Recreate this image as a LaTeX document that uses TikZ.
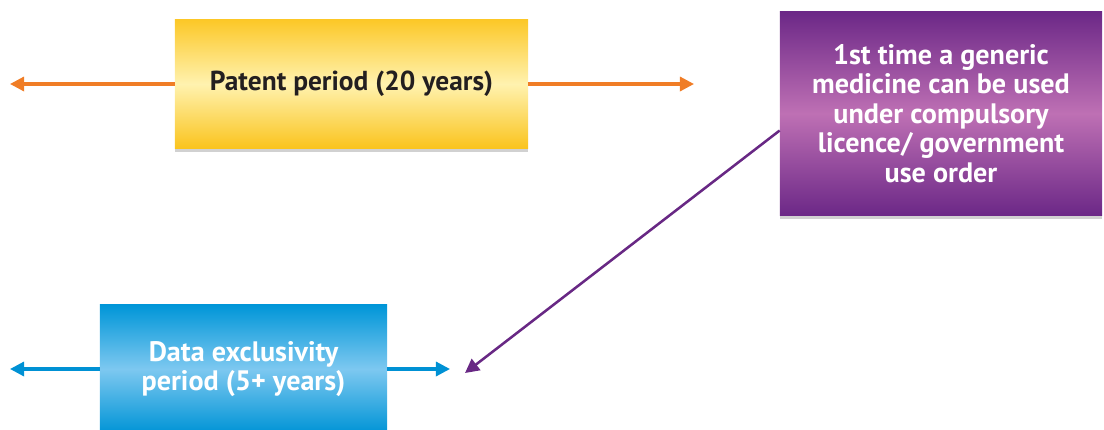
\documentclass[tikz,border=0pt]{standalone}
\usepackage{fontspec}
\setmainfont{PT Sans}
\usetikzlibrary{positioning,arrows.meta,shadows,calc}

\definecolor{patentorange}{RGB}{240,125,38}
\definecolor{datablue}{RGB}{0,145,212}
\definecolor{licpurple}{RGB}{104,40,132}

\begin{document}
\begin{tikzpicture}[x=0.025cm,y=-0.025cm,
    period/.style={inner sep=0pt, align=center, font=\bfseries\fontsize{20}{21}\selectfont,
      drop shadow={shadow xshift=0pt, shadow yshift=-3pt, opacity=0.18, fill=black}},
    arr/.style={line width=2.2pt, -{Triangle[length=10pt,width=10pt]}}]
    \useasboundingbox (0,0) rectangle (1104,429);
    \clip (0,0) rectangle (1104,429);

    % Boxes
    \node[period, minimum width=8.825cm, minimum height=3.2cm, font=\bfseries\fontsize{19.5}{21}\selectfont,
      top color={rgb,255:red,252;green,200;blue,40}, bottom color={rgb,255:red,250;green,196;blue,30},
      middle color={rgb,255:red,255;green,242;blue,175}, text={rgb,255:red,35;green,31;blue,32}]
      (patent) at (351.5,84) {Patent period (20 years)};
    \node[period, minimum width=7.175cm, minimum height=3.2cm,
      top color={rgb,255:red,0;green,150;blue,216}, bottom color={rgb,255:red,0;green,148;blue,214},
      middle color={rgb,255:red,125;green,200;blue,240}, text=white]
      (data) at (243.5,369) {Data exclusivity\\period (5+ years)};
    \node[period, minimum width=8.05cm, minimum height=5.075cm,
      top color={rgb,255:red,108;green,40;blue,135}, bottom color={rgb,255:red,108;green,40;blue,135},
      middle color={rgb,255:red,190;green,112;blue,180}, text=white]
      (generic) at (941,113.5) {1st time a generic\\medicine can be used\\under compulsory\\licence/ government\\use order};

    % Arrow ends
    \coordinate (pleft) at (10,84);
    \coordinate (pright) at (694,84);
    \coordinate (dleft) at (10,369);
    \coordinate (dright) at (450,369);
    \coordinate (gend) at (465,373);

    % Arrows
    \draw[arr, patentorange] (patent.west) -- (pleft);
    \draw[arr, patentorange] (patent.east) -- (pright);
    \draw[arr, datablue] (data.west) -- (dleft);
    \draw[arr, datablue] (data.east) -- (dright);
    \draw[arr, licpurple, line width=1.8pt] ($(generic.west)+(0,17)$) -- (gend);
\end{tikzpicture}
\end{document}
